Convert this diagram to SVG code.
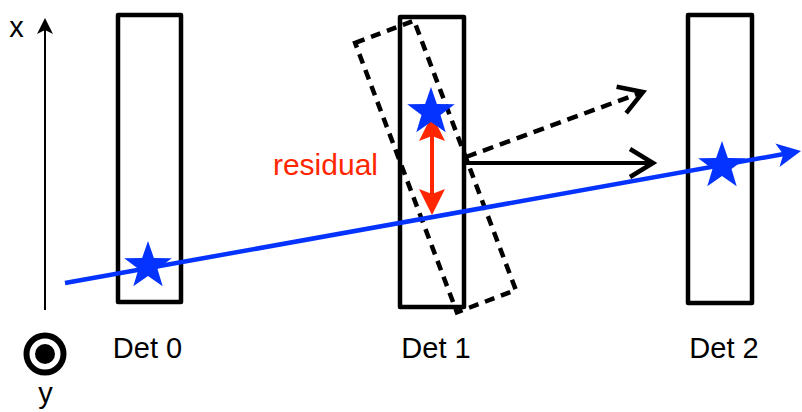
<svg xmlns="http://www.w3.org/2000/svg" xmlns:xlink="http://www.w3.org/1999/xlink" width="802" height="412" viewBox="0 0 802 412">
<style>
.det{fill:none;stroke:#000;stroke-width:4.5;stroke-linejoin:round}
.lbl{font-family:"Liberation Sans",Arial,Helvetica,sans-serif;font-size:29px;fill:#000}
.blue{fill:#0433ff}
.red{fill:#ff2600}
</style>
<defs>
<path id="star" d="M0,-25 L5.88,-8.09 L23.78,-7.73 L9.51,3.09 L14.69,20.23 L0,10 L-14.69,20.23 L-9.51,3.09 L-23.78,-7.73 L-5.88,-8.09 Z"/>
</defs>
<g id="axis">
<line x1="45" y1="310" x2="45" y2="29" stroke="#000" stroke-width="2"/>
<path d="M45,18 L53,34 L45,30 L37,34 Z" fill="#000"/>
<text x="16.5" y="37" text-anchor="middle" class="lbl" style="font-size:29px">x</text>
<circle cx="45" cy="354" r="18.5" fill="none" stroke="#000" stroke-width="6"/>
<circle cx="45" cy="354" r="10" fill="#000"/>
<text x="45.5" y="403" text-anchor="middle" class="lbl" style="font-size:29px">y</text>
</g>
<g id="det0">
<rect class="det" x="118" y="15" width="63" height="287"/>
<text x="147.5" y="358" text-anchor="middle" class="lbl">Det 0</text>
</g>
<g id="det1">
<rect class="det" x="400" y="17" width="64" height="290"/>
<text x="436" y="358" text-anchor="middle" class="lbl">Det 1</text>
</g>
<g id="det2">
<rect class="det" x="688" y="15" width="64" height="288"/>
<text x="724" y="358" text-anchor="middle" class="lbl">Det 2</text>
</g>
<g id="det1-rotated">
<rect x="404" y="22.5" width="63" height="288" transform="rotate(-20.7 435.5 166.5)" fill="none" stroke="#000" stroke-width="4.5" stroke-dasharray="10 7"/>
</g>
<g id="connectors">
<line x1="464" y1="163" x2="651" y2="163" stroke="#000" stroke-width="4"/>
<path d="M630,149 L653,163 L630,177" fill="none" stroke="#000" stroke-width="4.5"/>
<line x1="466" y1="157" x2="640" y2="93" stroke="#000" stroke-width="4.5" stroke-dasharray="11 7"/>
<path d="M616.6,86.7 L643,92 L626.2,113.1" fill="none" stroke="#000" stroke-width="4.5"/>
<line x1="65" y1="283" x2="784" y2="154" stroke="#0433ff" stroke-width="4.5"/>
<path d="M801,151 L779.5,167 L783.3,154.2 L775.3,143.4 Z" class="blue"/>
<line x1="432" y1="136" x2="432" y2="194" stroke="#ff2600" stroke-width="4"/>
<path d="M432,115 L445,141 L432,136 L419,141 Z" class="red"/>
<path d="M432,215 L445,189 L432,194 L419,189 Z" class="red"/>
<text x="378" y="175" text-anchor="end" class="lbl" style="font-size:30px;fill:#ff2600">residual</text>
</g>
<g id="stars">
<use xlink:href="#star" href="#star" x="148" y="266" class="blue"/>
<use xlink:href="#star" href="#star" x="431" y="112" class="blue"/>
<use xlink:href="#star" href="#star" x="722" y="166" class="blue"/>
</g>
</svg>
